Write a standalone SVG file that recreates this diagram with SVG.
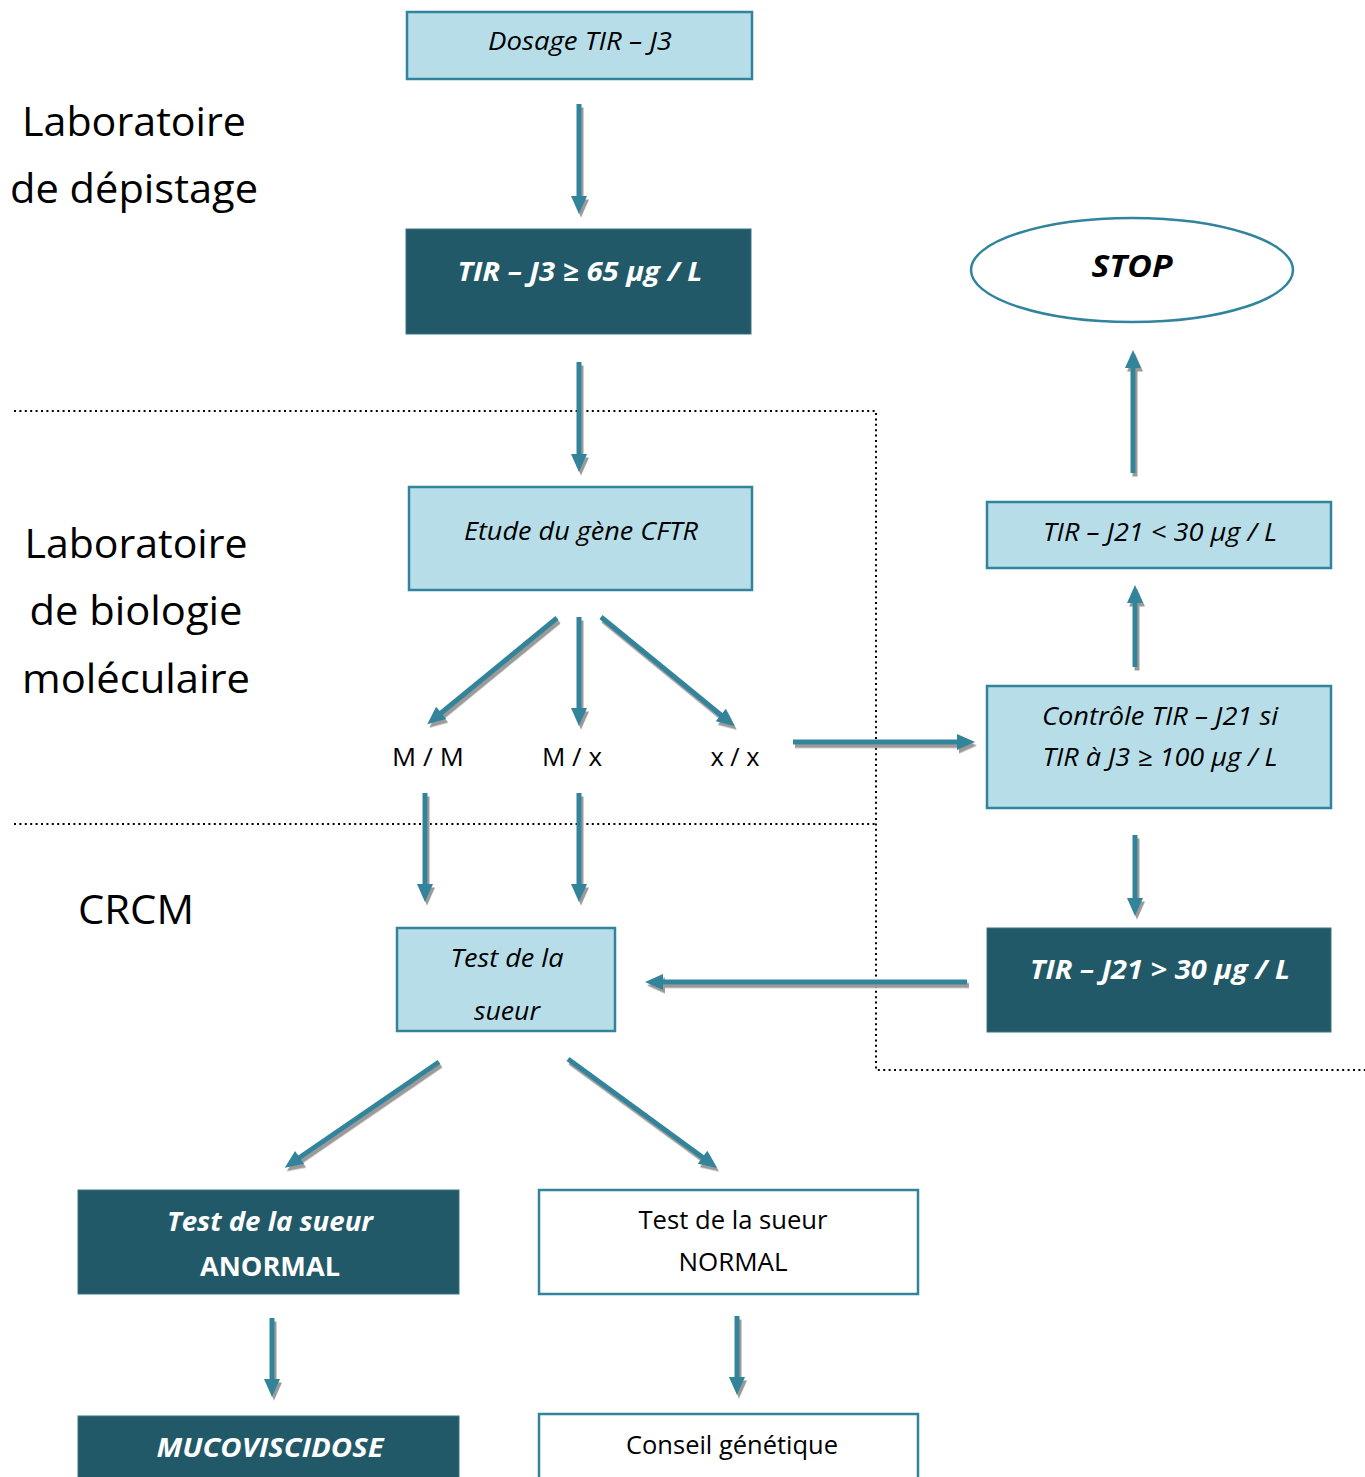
<svg xmlns="http://www.w3.org/2000/svg" width="1365" height="1477" viewBox="0 0 1365 1477">
<style>
.lt{fill:#B7DEE8;stroke:#31849B;stroke-width:2.5}
.dk{fill:#215968;stroke:#3A7484;stroke-width:1}
.wh{fill:#fff;stroke:#31849B;stroke-width:2.5}
text{font-family:"Open Sans","Liberation Sans",sans-serif;text-anchor:middle}
.it{font-style:italic;font-size:26px;fill:#000}
.bi{font-style:italic;font-weight:bold;font-size:27px;fill:#fff}
.rg{font-size:25px;fill:#000}
.side{font-size:41px;fill:#000}
.dot{fill:none;stroke:#000;stroke-width:2;stroke-dasharray:2 3.4}
.arr{stroke:#31849B;stroke-width:5;fill:none;marker-end:url(#ah)}
</style>
<defs>
<marker id="ah" markerUnits="userSpaceOnUse" markerWidth="20" markerHeight="18" refX="8" refY="9" orient="auto" overflow="visible">
<path d="M0,1 L18,9 L0,17 z" fill="#31849B"/>
</marker>
<filter id="sh" x="-20%" y="-20%" width="140%" height="140%">
<feDropShadow dx="2" dy="3.5" stdDeviation="0.4" flood-color="#9A9A9A" flood-opacity="1"/>
</filter>
</defs>

<g id="separators">
<path class="dot" d="M14,411 H876 V1070 H1365"/>
<path class="dot" d="M14,824 H876"/>
</g>

<g id="labels">
<text class="side" x="134" y="136" textLength="224" lengthAdjust="spacingAndGlyphs">Laboratoire</text>
<text class="side" x="134" y="203" textLength="248" lengthAdjust="spacingAndGlyphs">de dépistage</text>
<text class="side" x="136" y="558" textLength="223" lengthAdjust="spacingAndGlyphs">Laboratoire</text>
<text class="side" x="136" y="625" textLength="213" lengthAdjust="spacingAndGlyphs">de biologie</text>
<text class="side" x="136" y="693" textLength="228" lengthAdjust="spacingAndGlyphs">moléculaire</text>
<text class="side" x="136" y="924" textLength="116" lengthAdjust="spacingAndGlyphs">CRCM</text>
</g>

<g id="n-dosage">
<rect class="lt" x="407" y="12" width="345" height="67"/>
<text class="it" x="580" y="50" textLength="184" lengthAdjust="spacingAndGlyphs">Dosage TIR – J3</text>
</g>
<g id="n-tir65">
<rect class="dk" x="406" y="229" width="345" height="105"/>
<text class="bi" x="580" y="281" textLength="245" lengthAdjust="spacingAndGlyphs">TIR – J3 ≥ 65 µg / L</text>
</g>
<g id="n-stop">
<ellipse cx="1132" cy="270" rx="161" ry="52" fill="#fff" stroke="#31849B" stroke-width="2.5"/>
<text x="1132" y="277" font-style="italic" font-weight="bold" font-size="31" fill="#000" textLength="81" lengthAdjust="spacingAndGlyphs">STOP</text>
</g>
<g id="n-etude">
<rect class="lt" x="409" y="487" width="343" height="103"/>
<text class="it" x="581" y="540" textLength="234" lengthAdjust="spacingAndGlyphs">Etude du gène CFTR</text>
</g>
<g id="n-tir30lt">
<rect class="lt" x="987" y="502" width="344" height="66"/>
<text class="it" x="1160" y="541" textLength="234" lengthAdjust="spacingAndGlyphs">TIR – J21 &lt; 30 µg / L</text>
</g>
<g id="n-mm"><text class="rg" x="428" y="766" textLength="72" lengthAdjust="spacingAndGlyphs">M / M</text></g>
<g id="n-mx"><text class="rg" x="572" y="766" textLength="60" lengthAdjust="spacingAndGlyphs">M / x</text></g>
<g id="n-xx"><text class="rg" x="735" y="766" textLength="49" lengthAdjust="spacingAndGlyphs">x / x</text></g>
<g id="n-controle">
<rect class="lt" x="987" y="686" width="344" height="122"/>
<text class="it" x="1160" y="725" textLength="236" lengthAdjust="spacingAndGlyphs">Contrôle TIR – J21 si</text>
<text class="it" x="1160" y="766" textLength="235" lengthAdjust="spacingAndGlyphs">TIR à J3 ≥ 100 µg / L</text>
</g>
<g id="n-tir30gt">
<rect class="dk" x="987" y="928" width="344" height="104"/>
<text class="bi" x="1160" y="979" textLength="260" lengthAdjust="spacingAndGlyphs">TIR – J21 &gt; 30 µg / L</text>
</g>
<g id="n-sueur">
<rect class="lt" x="397" y="928" width="218" height="103"/>
<text class="it" x="507" y="967" textLength="113" lengthAdjust="spacingAndGlyphs">Test de la</text>
<text class="it" x="507" y="1020" textLength="66" lengthAdjust="spacingAndGlyphs">sueur</text>
</g>
<g id="n-anormal">
<rect class="dk" x="78" y="1190" width="381" height="104"/>
<text class="bi" x="270" y="1231" textLength="206" lengthAdjust="spacingAndGlyphs">Test de la sueur</text>
<text x="270" y="1276" font-weight="bold" font-size="26" fill="#fff" textLength="140" lengthAdjust="spacingAndGlyphs">ANORMAL</text>
</g>
<g id="n-normal">
<rect class="wh" x="539" y="1190" width="379" height="104"/>
<text class="rg" x="733" y="1229" textLength="189" lengthAdjust="spacingAndGlyphs">Test de la sueur</text>
<text class="rg" x="733" y="1271" textLength="109" lengthAdjust="spacingAndGlyphs">NORMAL</text>
</g>
<g id="n-muco">
<rect class="dk" x="78" y="1416" width="381" height="70"/>
<text class="bi" x="270" y="1457" textLength="227" lengthAdjust="spacingAndGlyphs">MUCOVISCIDOSE</text>
</g>
<g id="n-conseil">
<rect class="wh" x="539" y="1414" width="379" height="72"/>
<text class="rg" x="732" y="1454" textLength="212" lengthAdjust="spacingAndGlyphs">Conseil génétique</text>
</g>

<g id="connectors" filter="url(#sh)">
<line class="arr" x1="579" y1="104" x2="579" y2="204"/>
<line class="arr" x1="579" y1="362" x2="579" y2="462"/>
<line class="arr" x1="557" y1="618" x2="435" y2="718"/>
<line class="arr" x1="579" y1="617" x2="579" y2="716"/>
<line class="arr" x1="601" y1="617" x2="727" y2="720"/>
<line class="arr" x1="793" y1="742" x2="965" y2="742"/>
<line class="arr" x1="1135" y1="667" x2="1135" y2="595"/>
<line class="arr" x1="1133" y1="473" x2="1133" y2="360"/>
<line class="arr" x1="1135" y1="835" x2="1135" y2="906"/>
<line class="arr" x1="967" y1="982" x2="655" y2="982"/>
<line class="arr" x1="425" y1="793" x2="425" y2="892"/>
<line class="arr" x1="579" y1="793" x2="579" y2="892"/>
<line class="arr" x1="439" y1="1062" x2="293" y2="1162"/>
<line class="arr" x1="568" y1="1059" x2="709" y2="1162"/>
<line class="arr" x1="272" y1="1318" x2="272" y2="1387"/>
<line class="arr" x1="737" y1="1316" x2="737" y2="1385"/>
</g>
</svg>
